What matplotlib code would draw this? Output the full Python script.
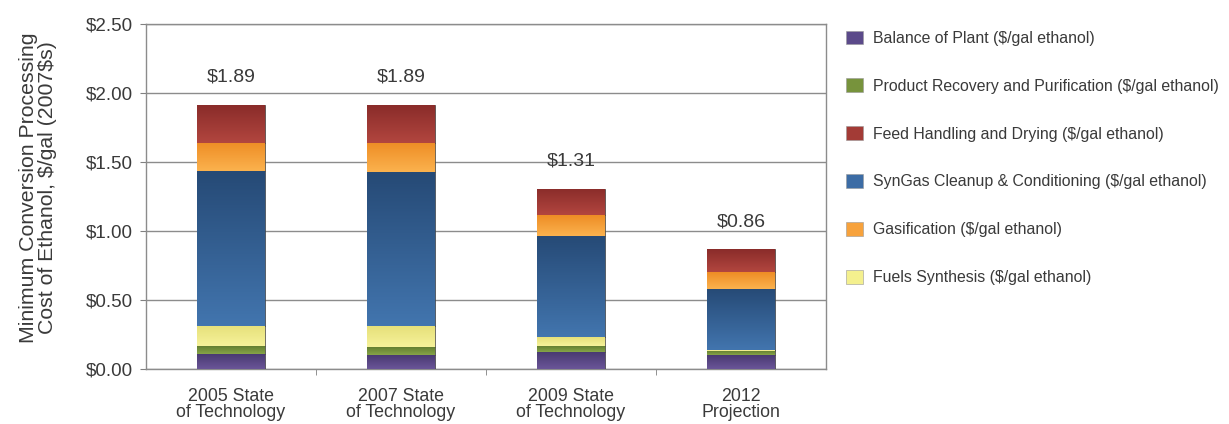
import matplotlib
matplotlib.use("Agg")
import matplotlib.pyplot as plt
import numpy as np
from matplotlib.patches import Patch
from matplotlib.colors import LinearSegmentedColormap

plt.rcParams['font.family'] = ['Liberation Sans', 'DejaVu Sans']

categories = ["2005 State\nof Technology", "2007 State\nof Technology",
              "2009 State\nof Technology", "2012\nProjection"]
balance_of_plant = [0.106, 0.100, 0.123, 0.098]
product_recovery = [0.062, 0.060, 0.045, 0.030]
fuels_synthesis = [0.145, 0.152, 0.063, 0.012]
syngas_cleanup = [1.123, 1.114, 0.735, 0.443]
gasification = [0.205, 0.214, 0.147, 0.123]
feed_handling = [0.275, 0.275, 0.193, 0.162]
totals_label = ["$1.89", "$1.89", "$1.31", "$0.86"]
y_ticks = [0.0, 0.5, 1.0, 1.5, 2.0, 2.5]

series = [
    ("Balance of Plant ($/gal ethanol)", balance_of_plant, ("#4a3a72", "#6a5598")),
    ("Product Recovery and Purification ($/gal ethanol)", product_recovery, ("#5f7a2e", "#86a448")),
    ("Fuels Synthesis ($/gal ethanol)", fuels_synthesis, ("#e6e07a", "#f6f29a")),
    ("SynGas Cleanup & Conditioning ($/gal ethanol)", syngas_cleanup, ("#264a76", "#4275ae")),
    ("Gasification ($/gal ethanol)", gasification, ("#ee8d25", "#fbb24e")),
    ("Feed Handling and Drying ($/gal ethanol)", feed_handling, ("#8a2c2a", "#b2463f")),
]
legend_order = [0, 1, 5, 3, 4, 2]
legend_colors = {0: "#5b4a8a", 1: "#77933c", 5: "#a33b36", 3: "#3c6ca5", 4: "#f7a23c", 2: "#f4f08e"}

W, H = 1229, 424
fig = plt.figure(figsize=(W / 100, H / 100), dpi=100)
ax_l, ax_r, ax_t, ax_b = 146, 826, 24, 369
ax = fig.add_axes([ax_l / W, 1 - ax_b / H, (ax_r - ax_l) / W, (ax_b - ax_t) / H])

txt = "#3a3a3a"
x = np.arange(len(categories))
bottom = np.zeros(len(categories))
for name, vals, (ctop, cbot) in series:
    bars = ax.bar(x, vals, width=0.4, bottom=bottom, color=cbot,
                  edgecolor="#3a3a3a", linewidth=0.5, zorder=3)
    cmap = LinearSegmentedColormap.from_list("g", [cbot, ctop])
    grad = np.linspace(0, 1, 64).reshape(-1, 1)
    for b in bars:
        x0, y0 = b.get_x(), b.get_y()
        w, h = b.get_width(), b.get_height()
        im = ax.imshow(grad, cmap=cmap, origin="lower", aspect="auto",
                       extent=(x0, x0 + w, y0, y0 + h), zorder=3.5)
        im.set_clip_path(b)
    bottom = bottom + np.array(vals)

for xi, tot, lab in zip(x, bottom, totals_label):
    ax.text(xi, tot + 0.2, lab.replace("$", "\\$"), ha="center", va="center",
            fontsize=14, color=txt, zorder=2)

ax.set_xlim(-0.5, len(categories) - 0.5)
ax.set_ylim(0, 2.5)
ax.set_yticks(y_ticks)
ax.set_yticklabels(["\\$%.2f" % v for v in y_ticks], fontsize=13.5, color=txt)
ax.set_xticks(x)
ax.set_xticklabels(categories, fontsize=12.8, color=txt, linespacing=0.98)
ax.tick_params(axis="x", which="major", length=0, pad=13.5)
ax.tick_params(axis="y", length=4.5, pad=5, color="#808080", direction="out")
ax.set_xticks(np.arange(0.5, len(categories) - 0.5), minor=True)
ax.tick_params(axis="x", which="minor", length=4.5, direction="out", color="#808080")
ax.yaxis.grid(True, color="#8c8c8c", linewidth=1.0, zorder=0)
ax.set_axisbelow(True)
for s in ax.spines.values():
    s.set_color("#8c8c8c")
    s.set_linewidth(1.0)

fig.text(38 / W, 1 - 188 / H,
         "Minimum Conversion Processing\nCost of Ethanol, \\$/gal (2007\\$s)",
         rotation=90, ha="center", va="center", fontsize=15.3, color=txt,
         linespacing=1.05, multialignment="center")

handles = [Patch(facecolor=legend_colors[i], edgecolor="#999999", linewidth=0.4) for i in legend_order]
labels = [series[i][0].replace("$", "\\$") for i in legend_order]
fig.legend(handles, labels, loc="upper left", bbox_to_anchor=(846 / W, 1 - 30.5 / H),
           frameon=False, fontsize=11.4, labelspacing=2.06, handlelength=1.08,
           handleheight=0.95, handletextpad=0.63, borderpad=0, borderaxespad=0,
           labelcolor=txt)

fig.savefig("out.png", dpi=100)
